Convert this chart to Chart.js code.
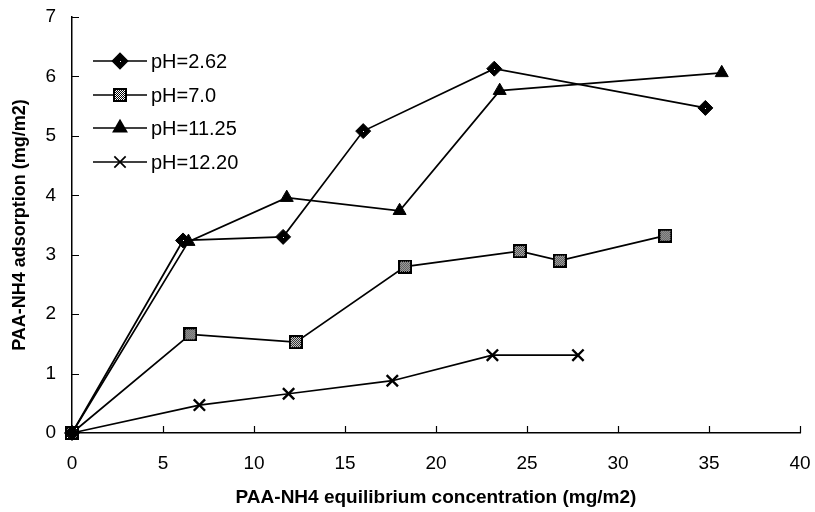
<!DOCTYPE html>
<html>
<head>
<meta charset="utf-8">
<script src="https://cdn.jsdelivr.net/npm/chart.js@4/dist/chart.umd.min.js"></script>
<style>
    html, body { margin: 0; padding: 0; background: #fff; }
    #wrap { width: 815px; height: 512px; }
</style>
</head>
<body>
<div id="wrap"><canvas id="grafico"></canvas></div>
<script>
// datos
const seriesNames = ['pH=2.62', 'pH=7.0', 'pH=11.25', 'pH=12.20'];

const ph262X = [0, 6.1, 11.6, 16.0, 23.2, 34.8];
const ph262Y = [0, 3.24, 3.30, 5.08, 6.13, 5.47];

const ph70X = [0, 6.5, 12.3, 18.3, 24.6, 26.8, 32.6];
const ph70Y = [0, 1.66, 1.53, 2.80, 3.06, 2.90, 3.32];

const ph1125X = [0, 6.4, 11.8, 18.0, 23.5, 35.7];
const ph1125Y = [0, 3.22, 3.96, 3.74, 5.76, 6.06];

const ph1220X = [0, 7.0, 11.9, 17.6, 23.1, 27.8];
const ph1220Y = [0, 0.47, 0.66, 0.88, 1.31, 1.31];

const xTicks = [0, 5, 10, 15, 20, 25, 30, 35, 40];
const yTicks = [0, 1, 2, 3, 4, 5, 6, 7];

const FONT = '"Liberation Sans", Arial, sans-serif';

function toPoints(xs, ys) {
    return xs.map((x, i) => ({ x: x, y: ys[i] }));
}

// cuadrado con relleno a cuadros
function makeSquare() {
    const c = document.createElement('canvas');
    c.width = 14; c.height = 14;
    const g = c.getContext('2d');
    g.fillStyle = '#fff';
    g.fillRect(0, 0, 14, 14);
    g.fillStyle = '#000';
    for (let i = 2; i < 12; i++) {
        for (let j = 2; j < 12; j++) {
            if ((i + j) % 2 === 0) g.fillRect(i, j, 1, 1);
        }
    }
    g.lineWidth = 2;
    g.strokeStyle = '#000';
    g.strokeRect(1, 1, 12, 12);
    return c;
}

const squareImg = makeSquare();

const baseDataset = {
    borderColor: '#000',
    backgroundColor: '#000',
    borderWidth: 1.7,
    pointBorderColor: '#000',
    pointBackgroundColor: '#000',
    showLine: true,
    clip: false,
    tension: 0
};

const datasets = [
    Object.assign({}, baseDataset, {
        label: seriesNames[0],
        data: toPoints(ph262X, ph262Y),
        pointStyle: 'rectRot',
        pointRadius: 7.5,
        pointBorderWidth: 1
    }),
    Object.assign({}, baseDataset, {
        label: seriesNames[1],
        data: toPoints(ph70X, ph70Y),
        pointStyle: squareImg
    }),
    Object.assign({}, baseDataset, {
        label: seriesNames[2],
        data: toPoints(ph1125X, ph1125Y),
        pointStyle: 'triangle',
        pointRadius: 7.5,
        pointBorderWidth: 1
    }),
    Object.assign({}, baseDataset, {
        label: seriesNames[3],
        data: toPoints(ph1220X, ph1220Y),
        pointStyle: 'crossRot',
        pointRadius: 8,
        pointBorderWidth: 2.4
    })
];

// punto blanco pequeño en el rombo
function diamondDot(ctx, x, y) {
    ctx.fillStyle = '#fff';
    ctx.fillRect(Math.round(x), Math.round(y), 1, 1);
}

const diamondCenter = {
    id: 'diamondCenter',
    afterDatasetsDraw(chart) {
        const ctx = chart.ctx;
        ctx.save();
        chart.getDatasetMeta(0).data.forEach(pt => diamondDot(ctx, pt.x, pt.y));
        ctx.restore();
    }
};

// ticks hacia dentro
const innerTicks = {
    id: 'innerTicks',
    afterDraw(chart) {
        const ctx = chart.ctx;
        const xs = chart.scales.x;
        const ys = chart.scales.y;
        const area = chart.chartArea;
        ctx.save();
        ctx.strokeStyle = '#000';
        ctx.lineWidth = 1.2;
        ctx.beginPath();
        xTicks.forEach(v => {
            const px = Math.round(xs.getPixelForValue(v)) + 0.5;
            ctx.moveTo(px, area.bottom);
            ctx.lineTo(px, area.bottom - 7);
        });
        yTicks.forEach(v => {
            const py = Math.round(ys.getPixelForValue(v)) + 0.5;
            ctx.moveTo(area.left, py);
            ctx.lineTo(area.left + 7, py);
        });
        ctx.stroke();
        ctx.restore();
    }
};

// leyenda con línea a través del marcador
const lineLegend = {
    id: 'lineLegend',
    afterDraw(chart) {
        const ctx = chart.ctx;
        const area = chart.chartArea;
        const x0 = area.left + 21;
        const rows = [44, 78, 111, 145];
        ctx.save();
        ctx.font = '20px ' + FONT;
        ctx.textBaseline = 'middle';
        chart.data.datasets.forEach((ds, i) => {
            const y = area.top + rows[i];
            ctx.strokeStyle = '#000';
            ctx.lineWidth = 1.7;
            ctx.beginPath();
            ctx.moveTo(x0, y);
            ctx.lineTo(x0 + 54, y);
            ctx.stroke();
            ctx.fillStyle = '#000';
            ctx.strokeStyle = '#000';
            Chart.helpers.drawPoint(ctx, {
                pointStyle: ds.pointStyle,
                radius: ds.pointRadius || 7,
                rotation: 0,
                borderWidth: ds.pointBorderWidth || 1
            }, x0 + 27, y);
            if (i === 0) diamondDot(ctx, x0 + 27, y);
            ctx.fillStyle = '#000';
            ctx.fillText(ds.label, x0 + 58, y + 1);
        });
        ctx.restore();
    }
};

const ctx = document.getElementById('grafico').getContext('2d');
const chart = new Chart(ctx, {
    type: 'scatter',
    data: { datasets: datasets },
    options: {
        responsive: true,
        maintainAspectRatio: false,
        animation: false,
        layout: {
            padding: { top: 17, right: 15, left: 0, bottom: 0 }
        },
        scales: {
            x: {
                type: 'linear',
                min: 0,
                max: 40,
                afterBuildTicks: s => { s.ticks = xTicks.map(v => ({ value: v })); },
                afterFit: s => {
                    s.height = 79;
                    s.paddingLeft = 0;
                    s.paddingRight = 0;
                },
                grid: { display: false, drawTicks: false },
                border: { display: true, color: '#000', width: 1.5 },
                ticks: {
                    color: '#000',
                    padding: 19,
                    maxRotation: 0,
                    font: { family: FONT, size: 19 }
                },
                title: {
                    display: true,
                    text: 'PAA-NH4 equilibrium concentration (mg/m2)',
                    color: '#000',
                    font: { family: FONT, size: 19, weight: 'bold' },
                    padding: { top: 0, bottom: 3 }
                }
            },
            y: {
                type: 'linear',
                min: 0,
                max: 7,
                afterBuildTicks: s => { s.ticks = yTicks.map(v => ({ value: v })); },
                afterFit: s => {
                    s.width = 72;
                    s.paddingTop = 0;
                    s.paddingBottom = 0;
                },
                grid: { display: false, drawTicks: false },
                border: { display: true, color: '#000', width: 1.5 },
                ticks: {
                    color: '#000',
                    padding: 16,
                    font: { family: FONT, size: 19 }
                },
                title: {
                    display: true,
                    text: 'PAA-NH4 adsorption (mg/m2)',
                    color: '#000',
                    font: { family: FONT, size: 18, weight: 'bold' },
                    padding: { top: 9, bottom: 0 }
                }
            }
        },
        plugins: {
            legend: { display: false },
            tooltip: { enabled: false }
        }
    },
    plugins: [diamondCenter, innerTicks, lineLegend]
});
</script>
</body>
</html>
